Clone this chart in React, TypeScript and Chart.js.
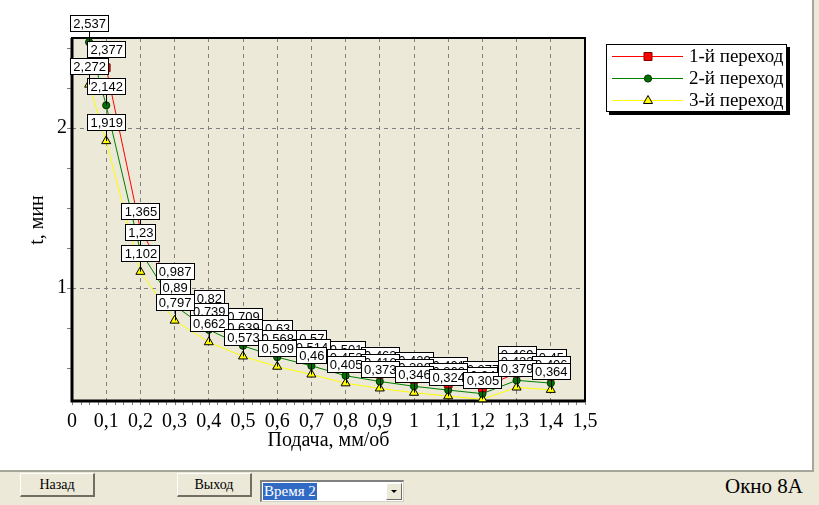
import React, { useEffect, useRef } from 'react';
import { Chart, registerables } from 'chart.js';

Chart.register(...registerables);

// ---- data ----
const feed1 = [0.1, 0.2, 0.3, 0.4, 0.5, 0.6, 0.7, 0.8, 0.9, 1.0, 1.1, 1.2, 1.3, 1.4];
const time1 = [2.377, 1.365, 0.987, 0.82, 0.709, 0.63, 0.57, 0.501, 0.462, 0.429, 0.401, 0.377, 0.469, 0.45];
const feed23 = [0.05, 0.1, 0.2, 0.3, 0.4, 0.5, 0.6, 0.7, 0.8, 0.9, 1.0, 1.1, 1.2, 1.3, 1.4];
const time2 = [2.537, 2.142, 1.23, 0.89, 0.739, 0.639, 0.568, 0.514, 0.452, 0.416, 0.386, 0.362, 0.34, 0.423, 0.406];
const time3 = [2.272, 1.919, 1.102, 0.797, 0.662, 0.573, 0.509, 0.46, 0.405, 0.373, 0.346, 0.324, 0.305, 0.379, 0.364];
const seriesNames = ['1-й переход', '2-й переход', '3-й переход'];
const xTickValues = [0, 0.1, 0.2, 0.3, 0.4, 0.5, 0.6, 0.7, 0.8, 0.9, 1, 1.1, 1.2, 1.3, 1.4, 1.5];
const yTickValues = [1, 2];
const xTitle = 'Подача, мм/об';
const yTitle = 't, мин';

const fmt = (v: number) => String(Math.round(v * 1000) / 1000).replace('.', ',');
const SERIF = '"Liberation Serif", "Times New Roman", serif';
const SANS = '"Liberation Sans", Arial, sans-serif';

const lineColors = ['#ff0000', '#008000', '#ffff00'];
const pointFill = ['#ff0000', '#007000', '#ffff00'];
const pointEdge = ['#800000', '#003000', '#000000'];
const pointStyles = ['rect', 'circle', 'triangle'];
const pointRadii = [5.5, 3.6, 5.2];

function drawMarker(ctx: CanvasRenderingContext2D, i: number, x: number, y: number) {
  ctx.save();
  ctx.fillStyle = pointFill[i];
  ctx.strokeStyle = pointEdge[i];
  ctx.lineWidth = 1;
  ctx.beginPath();
  if (i === 0) {
    ctx.rect(x - 4, y - 4, 8, 8);
  } else if (i === 1) {
    ctx.arc(x, y, 3.6, 0, Math.PI * 2);
  } else {
    ctx.moveTo(x, y - 5);
    ctx.lineTo(x + 4.5, y + 3);
    ctx.lineTo(x - 4.5, y + 3);
    ctx.closePath();
  }
  ctx.fill();
  ctx.stroke();
  ctx.restore();
}

const decorPlugin = {
  id: 'decor',
  beforeDraw(chart: any) {
    const { ctx, chartArea: a } = chart;
    ctx.save();
    ctx.fillStyle = '#ece9d8';
    ctx.fillRect(a.left, a.top, a.right - a.left, a.bottom - a.top);
    ctx.restore();
  },
  beforeDatasetsDraw(chart: any) {
    const { ctx, chartArea: a, scales } = chart;
    ctx.save();
    // minor ticks
    ctx.strokeStyle = '#808080';
    ctx.lineWidth = 1;
    for (let v = 0.5; v <= 2.5001; v += 0.25) {
      const y = Math.round(scales.y.getPixelForValue(v)) + 0.5;
      ctx.beginPath();
      ctx.moveTo(a.left - 5, y);
      ctx.lineTo(a.left, y);
      ctx.stroke();
    }
    for (let v = 0; v <= 1.5001; v += 0.025) {
      const x = Math.round(scales.x.getPixelForValue(v)) + 0.5;
      ctx.beginPath();
      ctx.moveTo(x, a.bottom);
      ctx.lineTo(x, a.bottom + 4);
      ctx.stroke();
    }
    // frame
    ctx.strokeStyle = '#000';
    ctx.lineWidth = 2;
    ctx.strokeRect(a.left, a.top, a.right - a.left, a.bottom - a.top);
    ctx.lineWidth = 3;
    ctx.beginPath();
    ctx.moveTo(a.left, a.top);
    ctx.lineTo(a.left, a.bottom);
    ctx.lineTo(a.right, a.bottom);
    ctx.stroke();
    // titles
    ctx.fillStyle = '#000';
    ctx.font = `20px ${SERIF}`;
    ctx.textAlign = 'center';
    ctx.textBaseline = 'middle';
    ctx.fillText(xTitle, (a.left + a.right) / 2, 441);
    ctx.translate(38, 220);
    ctx.rotate(-Math.PI / 2);
    ctx.fillText(yTitle, 0, 0);
    ctx.restore();
  },
  afterDatasetsDraw(chart: any) {
    const { ctx, chartArea: a } = chart;
    ctx.save();
    ctx.font = `13px ${SANS}`;
    ctx.textAlign = 'center';
    ctx.textBaseline = 'middle';
    chart.data.datasets.forEach((ds: any, di: number) => {
      const meta = chart.getDatasetMeta(di);
      meta.data.forEach((pt: any, pi: number) => {
        const v = ds.data[pi].y;
        if (pt.y < a.top - 1 || pt.y > a.bottom + 1) return;
        const txt = fmt(v);
        const tw = ctx.measureText(txt).width;
        const bw = Math.round(tw + 5);
        const bh = 16;
        const bx = Math.round(pt.x - bw / 2) + 0.5;
        const bb = Math.round(pt.y - 11) + 0.5;
        ctx.strokeStyle = '#000';
        ctx.lineWidth = 1;
        ctx.beginPath();
        ctx.moveTo(Math.round(pt.x) + 0.5, pt.y);
        ctx.lineTo(Math.round(pt.x) + 0.5, bb);
        ctx.stroke();
        ctx.fillStyle = '#fff';
        ctx.fillRect(bx, bb - bh, bw, bh);
        ctx.strokeRect(bx, bb - bh, bw, bh);
        ctx.fillStyle = '#000';
        ctx.fillText(txt, pt.x + 0.5, bb - bh / 2 + 1);
      });
    });
    // legend
    const lx = 606, ly = 44, lw = 181, lh = 68;
    ctx.fillStyle = '#000';
    ctx.fillRect(lx + 3, ly + 3, lw, lh);
    ctx.fillStyle = '#fff';
    ctx.fillRect(lx, ly, lw, lh);
    ctx.strokeStyle = '#000';
    ctx.lineWidth = 1;
    ctx.strokeRect(lx + 0.5, ly + 0.5, lw - 1, lh - 1);
    const rows = [56, 78, 100];
    ctx.font = `19px ${SERIF}`;
    ctx.textAlign = 'left';
    ctx.textBaseline = 'middle';
    seriesNames.forEach((name, i) => {
      const y = rows[i];
      ctx.strokeStyle = lineColors[i];
      ctx.beginPath();
      ctx.moveTo(612, y + 0.5);
      ctx.lineTo(683, y + 0.5);
      ctx.stroke();
      drawMarker(ctx, i, 648, y + 0.5);
      ctx.fillStyle = '#000';
      ctx.fillText(name, 689, y + 1);
    });
    ctx.restore();
  },
};

export default function App() {
  const ref = useRef<HTMLCanvasElement | null>(null);
  useEffect(() => {
    document.body.style.margin = '0';
    const c = ref.current;
    if (!c) return;
    const mk = (xs: number[], ys: number[]) => xs.map((x, i) => ({ x, y: ys[i] }));
    const datas = [mk(feed1, time1), mk(feed23, time2), mk(feed23, time3)];
    const chart = new Chart(c, {
      type: 'line',
      data: {
        datasets: datas.map((d, i) => ({
          label: seriesNames[i],
          data: d,
          borderColor: lineColors[i],
          borderWidth: 1,
          pointStyle: pointStyles[i] as any,
          pointRadius: pointRadii[i],
          pointBackgroundColor: pointFill[i],
          pointBorderColor: pointEdge[i],
          pointBorderWidth: 1,
          tension: 0,
          clip: 8,
        })),
      },
      options: {
        responsive: false,
        animation: false,
        devicePixelRatio: 1,
        layout: { padding: { left: 0, top: 38, right: 227, bottom: 0 } },
        plugins: { legend: { display: false }, tooltip: { enabled: false } },
        scales: {
          x: {
            type: 'linear',
            min: 0,
            max: 1.5,
            afterBuildTicks: (s: any) => {
              s.ticks = xTickValues.map((v) => ({ value: v }));
            },
            afterFit: (s: any) => {
              s.height = 69;
            },
            ticks: {
              autoSkip: false,
              maxRotation: 0,
              padding: 9,
              color: '#000',
              font: { family: SERIF, size: 20 },
              callback: (v: any) => fmt(Number(v)),
            },
            grid: { color: '#808080', lineWidth: 1, drawTicks: false },
            border: { display: false, dash: [4, 4] },
          },
          y: {
            type: 'linear',
            min: 0.294,
            max: 2.563,
            afterBuildTicks: (s: any) => {
              s.ticks = yTickValues.map((v) => ({ value: v }));
            },
            afterFit: (s: any) => {
              s.width = 72;
            },
            ticks: {
              padding: 5,
              color: '#000',
              font: { family: SERIF, size: 20 },
              callback: (v: any) => fmt(Number(v)),
            },
            grid: { color: '#808080', lineWidth: 1, drawTicks: false },
            border: { display: false, dash: [4, 4] },
          },
        },
      },
      plugins: [decorPlugin],
    });
    return () => chart.destroy();
  }, []);

  const btn: React.CSSProperties = {
    position: 'absolute',
    top: 473,
    width: 75,
    height: 24,
    boxSizing: 'border-box',
    background: '#ece9d8',
    borderTop: '1px solid #ffffff',
    borderLeft: '1px solid #ffffff',
    borderRight: '2px solid #716f64',
    borderBottom: '2px solid #716f64',
    font: `14px ${SERIF}`,
    display: 'flex',
    alignItems: 'center',
    justifyContent: 'center',
    color: '#000',
  };

  return (
    <div style={{ position: 'relative', width: 819, height: 505, background: '#ece9d8', overflow: 'hidden' }}>
      <div
        style={{
          position: 'absolute',
          left: 0,
          top: 0,
          width: 814,
          height: 472,
          boxSizing: 'border-box',
          background: '#ffffff',
          borderRight: '2px solid #a7a69a',
          borderBottom: '2px solid #a7a69a',
        }}
      />
      <canvas ref={ref} width={812} height={470} style={{ position: 'absolute', left: 0, top: 0, width: 812, height: 470 }} />
      <div style={{ ...btn, left: 20 }}>Назад</div>
      <div style={{ ...btn, left: 177 }}>Выход</div>
      <div
        style={{
          position: 'absolute',
          left: 260,
          top: 480,
          width: 144,
          height: 22,
          boxSizing: 'border-box',
          background: '#fff',
          borderTop: '2px solid #808080',
          borderLeft: '2px solid #808080',
          borderRight: '1px solid #d4d0c8',
          borderBottom: '1px solid #d4d0c8',
        }}
      >
        <span
          style={{
            position: 'absolute',
            left: 1,
            top: 1,
            height: 17,
            padding: '0 1px',
            background: '#316ac5',
            color: '#fff',
            font: `15px ${SERIF}`,
            lineHeight: '17px',
          }}
        >
          Время 2
        </span>
        <div
          style={{
            position: 'absolute',
            right: 1,
            top: 1,
            width: 16,
            height: 17,
            boxSizing: 'border-box',
            background: '#ece9d8',
            borderTop: '1px solid #fff',
            borderLeft: '1px solid #fff',
            borderRight: '1px solid #716f64',
            borderBottom: '1px solid #716f64',
          }}
        >
          <div
            style={{
              position: 'absolute',
              left: 4,
              top: 6,
              width: 0,
              height: 0,
              borderLeft: '3px solid transparent',
              borderRight: '3px solid transparent',
              borderTop: '3px solid #000',
            }}
          />
        </div>
      </div>
      <div style={{ position: 'absolute', left: 725, top: 474, font: `21px ${SERIF}`, color: '#000', whiteSpace: 'nowrap' }}>
        Окно 8А
      </div>
    </div>
  );
}
